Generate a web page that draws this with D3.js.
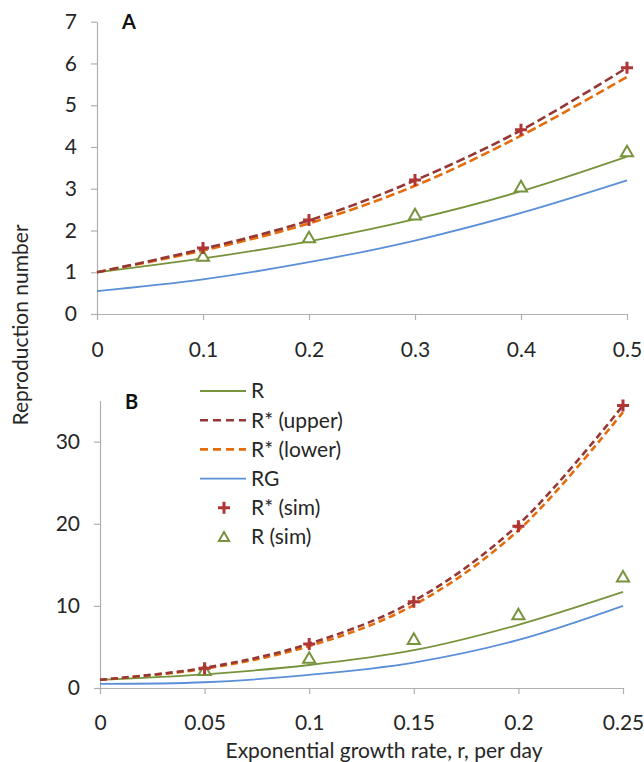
<!DOCTYPE html>
<html>
<head>
<meta charset="utf-8">
<script src="https://cdn.jsdelivr.net/npm/d3@7"></script>
<style>
  body { margin: 0; background: #fff; }
  text { font-family: Lato, "Open Sans", sans-serif; }
</style>
</head>
<body>
<div id="chart"></div>
<script>
// panel A: growth rate 0..0.5
const rA = [0, 0.1, 0.2, 0.3, 0.4, 0.5];
const rASim = [0.1, 0.2, 0.3, 0.4, 0.5];
const aR = [1.0, 1.33, 1.74, 2.27, 2.94, 3.77];
const aUpper = [1.0, 1.56, 2.24, 3.2, 4.4, 5.9];
const aLower = [1.0, 1.52, 2.17, 3.07, 4.27, 5.68];
const aRG = [0.55, 0.83, 1.24, 1.76, 2.42, 3.2];
const aSimStar = [1.58, 2.25, 3.21, 4.41, 5.9];
const aSimR = [1.36, 1.8, 2.35, 3.02, 3.86];
const aXTicks = [0, 0.1, 0.2, 0.3, 0.4, 0.5];
const aYTicks = [0, 1, 2, 3, 4, 5, 6, 7];

// panel B: growth rate 0..0.25
const rB = [0, 0.05, 0.1, 0.15, 0.2, 0.25];
const rBSim = [0.05, 0.1, 0.15, 0.2, 0.25];
const bR = [1.0, 1.67, 2.8, 4.6, 7.7, 11.7];
const bUpper = [1.0, 2.45, 5.4, 10.6, 19.9, 34.4];
const bLower = [1.0, 2.35, 5.1, 10.1, 19.2, 33.6];
const bRG = [0.5, 0.7, 1.6, 3.1, 5.85, 10.0];
const bSimStar = [2.4, 5.37, 10.5, 19.7, 34.4];
const bSimR = [2.0, 3.5, 5.8, 8.8, 13.4];
const bXTicks = [0, 0.05, 0.1, 0.15, 0.2, 0.25];
const bYTicks = [0, 10, 20, 30];

const legendLabels = ["R", "R* (upper)", "R* (lower)", "RG", "R* (sim)", "R (sim)"];

const col = {
    R: "#77933c",
    upper: "#953735",
    lower: "#e46c0a",
    RG: "#5b8fd8",
    plus: "#b03535"
};
const fontSize = "21px";

const svg = d3.select("#chart")
    .append("svg")
    .attr("width", 644)
    .attr("height", 762);

function drawPanel(opts) {
    const x = d3.scaleLinear().domain(opts.xDomain).range(opts.xRange);
    const y = d3.scaleLinear().domain(opts.yDomain).range(opts.yRange);
    const g = svg.append("g");

    const xAxis = g.append("g")
        .attr("transform", `translate(0,${opts.yRange[0]})`)
        .call(d3.axisBottom(x).tickValues(opts.xTicks).tickFormat(String)
            .tickSize(6).tickSizeOuter(0).tickPadding(opts.xPad));
    const yAxis = g.append("g")
        .attr("transform", `translate(${opts.xRange[0]},0)`)
        .call(d3.axisLeft(y).tickValues(opts.yTicks).tickFormat(String)
            .tickSize(6).tickSizeOuter(0).tickPadding(14));
    [xAxis, yAxis].forEach((a) => {
        a.select(".domain").attr("stroke", "#b0b0b0").attr("stroke-width", 1.2);
        a.selectAll(".tick line").attr("stroke", "#b0b0b0").attr("stroke-width", 1.2);
        a.selectAll(".tick text")
            .attr("fill", "#262626")
            .style("font-size", fontSize);
    });

    const line = d3.line()
        .x((d) => x(d[0]))
        .y((d) => y(d[1]))
        .curve(d3.curveCatmullRom.alpha(0.5));

    const series = [
        { vals: opts.RG, color: col.RG, width: 1.8, dash: null },
        { vals: opts.R, color: col.R, width: 1.8, dash: null },
        { vals: opts.lower, color: col.lower, width: 2.6, dash: opts.dash },
        { vals: opts.upper, color: col.upper, width: 2.6, dash: opts.dash }
    ];
    series.forEach((s) => {
        g.append("path")
            .datum(opts.r.map((v, i) => [v, s.vals[i]]))
            .attr("d", line)
            .attr("fill", "none")
            .attr("stroke", s.color)
            .attr("stroke-width", s.width)
            .attr("stroke-dasharray", s.dash);
    });

    // simulated R: open triangles
    const tri = d3.symbol().type(d3.symbolTriangle).size(64);
    g.selectAll(".tri")
        .data(opts.rSim.map((v, i) => [v, opts.simR[i]]))
        .enter()
        .append("path")
        .attr("d", tri)
        .attr("transform", (d) => `translate(${x(d[0])},${y(d[1])})`)
        .attr("fill", "#fff")
        .attr("stroke", col.R)
        .attr("stroke-width", 2);

    // simulated R*: plus signs
    g.selectAll(".plus")
        .data(opts.rSim.map((v, i) => [v, opts.simStar[i]]))
        .enter()
        .append("path")
        .attr("d", "M-6,0H6M0,-6V6")
        .attr("transform", (d) => `translate(${x(d[0])},${y(d[1])})`)
        .attr("stroke", col.plus)
        .attr("stroke-width", 3);

    g.append("text")
        .attr("x", opts.xRange[0] + 25)
        .attr("y", opts.labelY)
        .attr("fill", "#111")
        .style("font-size", "20px")
        .style("font-weight", "bold")
        .text(opts.label);

    return { x, y, g };
}

drawPanel({
    xDomain: [0, 0.5], xRange: [97, 627],
    yDomain: [0, 7], yRange: [314, 21.7],
    xTicks: aXTicks, yTicks: aYTicks, xPad: 22,
    r: rA, rSim: rASim,
    R: aR, upper: aUpper, lower: aLower, RG: aRG,
    simStar: aSimStar, simR: aSimR,
    dash: "9,4", label: "A", labelY: 29
});

drawPanel({
    xDomain: [0, 0.25], xRange: [100, 623],
    yDomain: [0, 35], yRange: [688, 400.6],
    xTicks: bXTicks, yTicks: bYTicks, xPad: 21,
    r: rB, rSim: rBSim,
    R: bR, upper: bUpper, lower: bLower, RG: bRG,
    simStar: bSimStar, simR: bSimR,
    dash: "7,4", label: "B", labelY: 409
});

// legend
const legend = svg.append("g").attr("transform", "translate(200,391)");
const legendStyles = [
    { type: "line", color: col.R, dash: null, w: 1.8 },
    { type: "line", color: col.upper, dash: "8,5", w: 2.6 },
    { type: "line", color: col.lower, dash: "8,5", w: 2.6 },
    { type: "line", color: col.RG, dash: null, w: 1.8 },
    { type: "plus" },
    { type: "tri" }
];
legendLabels.forEach((lab, i) => {
    const row = legend.append("g").attr("transform", `translate(0,${i * 29.2})`);
    const st = legendStyles[i];
    if (st.type === "line") {
        row.append("line")
            .attr("x1", 0).attr("x2", 46)
            .attr("stroke", st.color)
            .attr("stroke-width", st.w)
            .attr("stroke-dasharray", st.dash);
    } else if (st.type === "plus") {
        row.append("path")
            .attr("d", "M-6,0H6M0,-6V6")
            .attr("transform", "translate(24,0)")
            .attr("stroke", col.plus)
            .attr("stroke-width", 3);
    } else {
        row.append("path")
            .attr("d", d3.symbol().type(d3.symbolTriangle).size(45))
            .attr("transform", "translate(24,1)")
            .attr("fill", "#fff")
            .attr("stroke", col.R)
            .attr("stroke-width", 2);
    }
    row.append("text")
        .attr("x", 51)
        .attr("dy", "0.35em")
        .attr("fill", "#262626")
        .style("font-size", fontSize)
        .text(lab);
});

// axis titles
svg.append("text")
    .attr("transform", "translate(28,325) rotate(-90)")
    .attr("text-anchor", "middle")
    .attr("fill", "#262626")
    .style("font-size", fontSize)
    .text("Reproduction number");

svg.append("text")
    .attr("x", 384)
    .attr("y", 758)
    .attr("text-anchor", "middle")
    .attr("fill", "#262626")
    .style("font-size", fontSize)
    .text("Exponential growth rate, r, per day");
</script>
</body>
</html>
